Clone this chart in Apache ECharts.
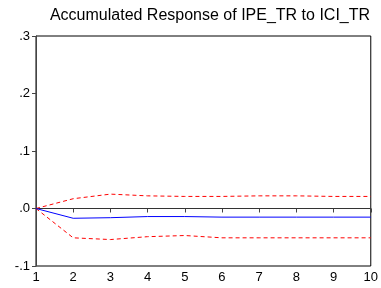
<!DOCTYPE html>
<html>
<head>
<meta charset="utf-8">
<script src="https://cdn.jsdelivr.net/npm/echarts@6/dist/echarts.min.js"></script>
<style>
html, body { margin: 0; padding: 0; background: #fff; }
#chart { width: 381px; height: 288px; }
</style>
</head>
<body>
<div id="chart"></div>
<script>
// periods after the shock
var periods = ['1', '2', '3', '4', '5', '6', '7', '8', '9', '10'];
// accumulated response (point estimate)
var response = [0, -0.017, -0.016, -0.014, -0.014, -0.015, -0.015, -0.015, -0.015, -0.015];
// +/- 2 s.e. bands
var upperBand = [0, 0.017, 0.025, 0.022, 0.021, 0.021, 0.022, 0.022, 0.021, 0.021];
var lowerBand = [0, -0.051, -0.054, -0.049, -0.047, -0.051, -0.051, -0.051, -0.051, -0.051];
var zeroLine = [0, 0, 0, 0, 0, 0, 0, 0, 0, 0];

var chart = echarts.init(document.getElementById('chart'));

function fmtY(v) {
    var r = Math.round(v * 10);
    if (r === 0) return '.0';
    return (r < 0 ? '-' : '') + '.' + Math.abs(r);
}

chart.setOption({
    animation: false,
    title: {
        text: 'Accumulated Response of IPE_TR to ICI_TR',
        left: 205,
        textAlign: 'center',
        top: 3,
        textStyle: {
            fontFamily: 'Liberation Sans',
            fontWeight: 'normal',
            fontSize: 16,
            color: '#000'
        }
    },
    grid: {
        left: 36,
        right: 4,
        top: 36,
        bottom: 22,
        show: true,
        borderColor: '#000',
        borderWidth: 1
    },
    xAxis: {
        type: 'category',
        data: periods,
        boundaryGap: false,
        axisLine: { lineStyle: { color: '#444', width: 1 } },
        axisTick: { show: true, length: 4, lineStyle: { color: '#444' } },
        axisLabel: {
            color: '#000',
            fontFamily: 'Liberation Sans',
            fontSize: 13,
            margin: 5
        },
        splitLine: { show: false }
    },
    yAxis: {
        type: 'value',
        min: -0.1,
        max: 0.3,
        interval: 0.1,
        axisLine: { show: true, lineStyle: { color: '#444', width: 1 } },
        axisTick: { show: true, length: 4, lineStyle: { color: '#444' } },
        axisLabel: {
            color: '#000',
            fontFamily: 'Liberation Sans',
            fontSize: 13,
            margin: 6,
            formatter: fmtY
        },
        splitLine: { show: false }
    },
    series: [
        {
            name: 'zero',
            type: 'line',
            data: zeroLine,
            symbol: 'none',
            lineStyle: { color: '#333', width: 1 },
            z: 1
        },
        {
            name: 'upper',
            type: 'line',
            data: upperBand,
            symbol: 'none',
            lineStyle: { color: '#ff0000', width: 1, type: [4, 3] },
            z: 2
        },
        {
            name: 'lower',
            type: 'line',
            data: lowerBand,
            symbol: 'none',
            lineStyle: { color: '#ff0000', width: 1, type: [4, 3] },
            z: 2
        },
        {
            name: 'response',
            type: 'line',
            data: response,
            symbol: 'none',
            lineStyle: { color: '#0000ff', width: 1 },
            z: 3
        }
    ]
});
</script>
</body>
</html>
